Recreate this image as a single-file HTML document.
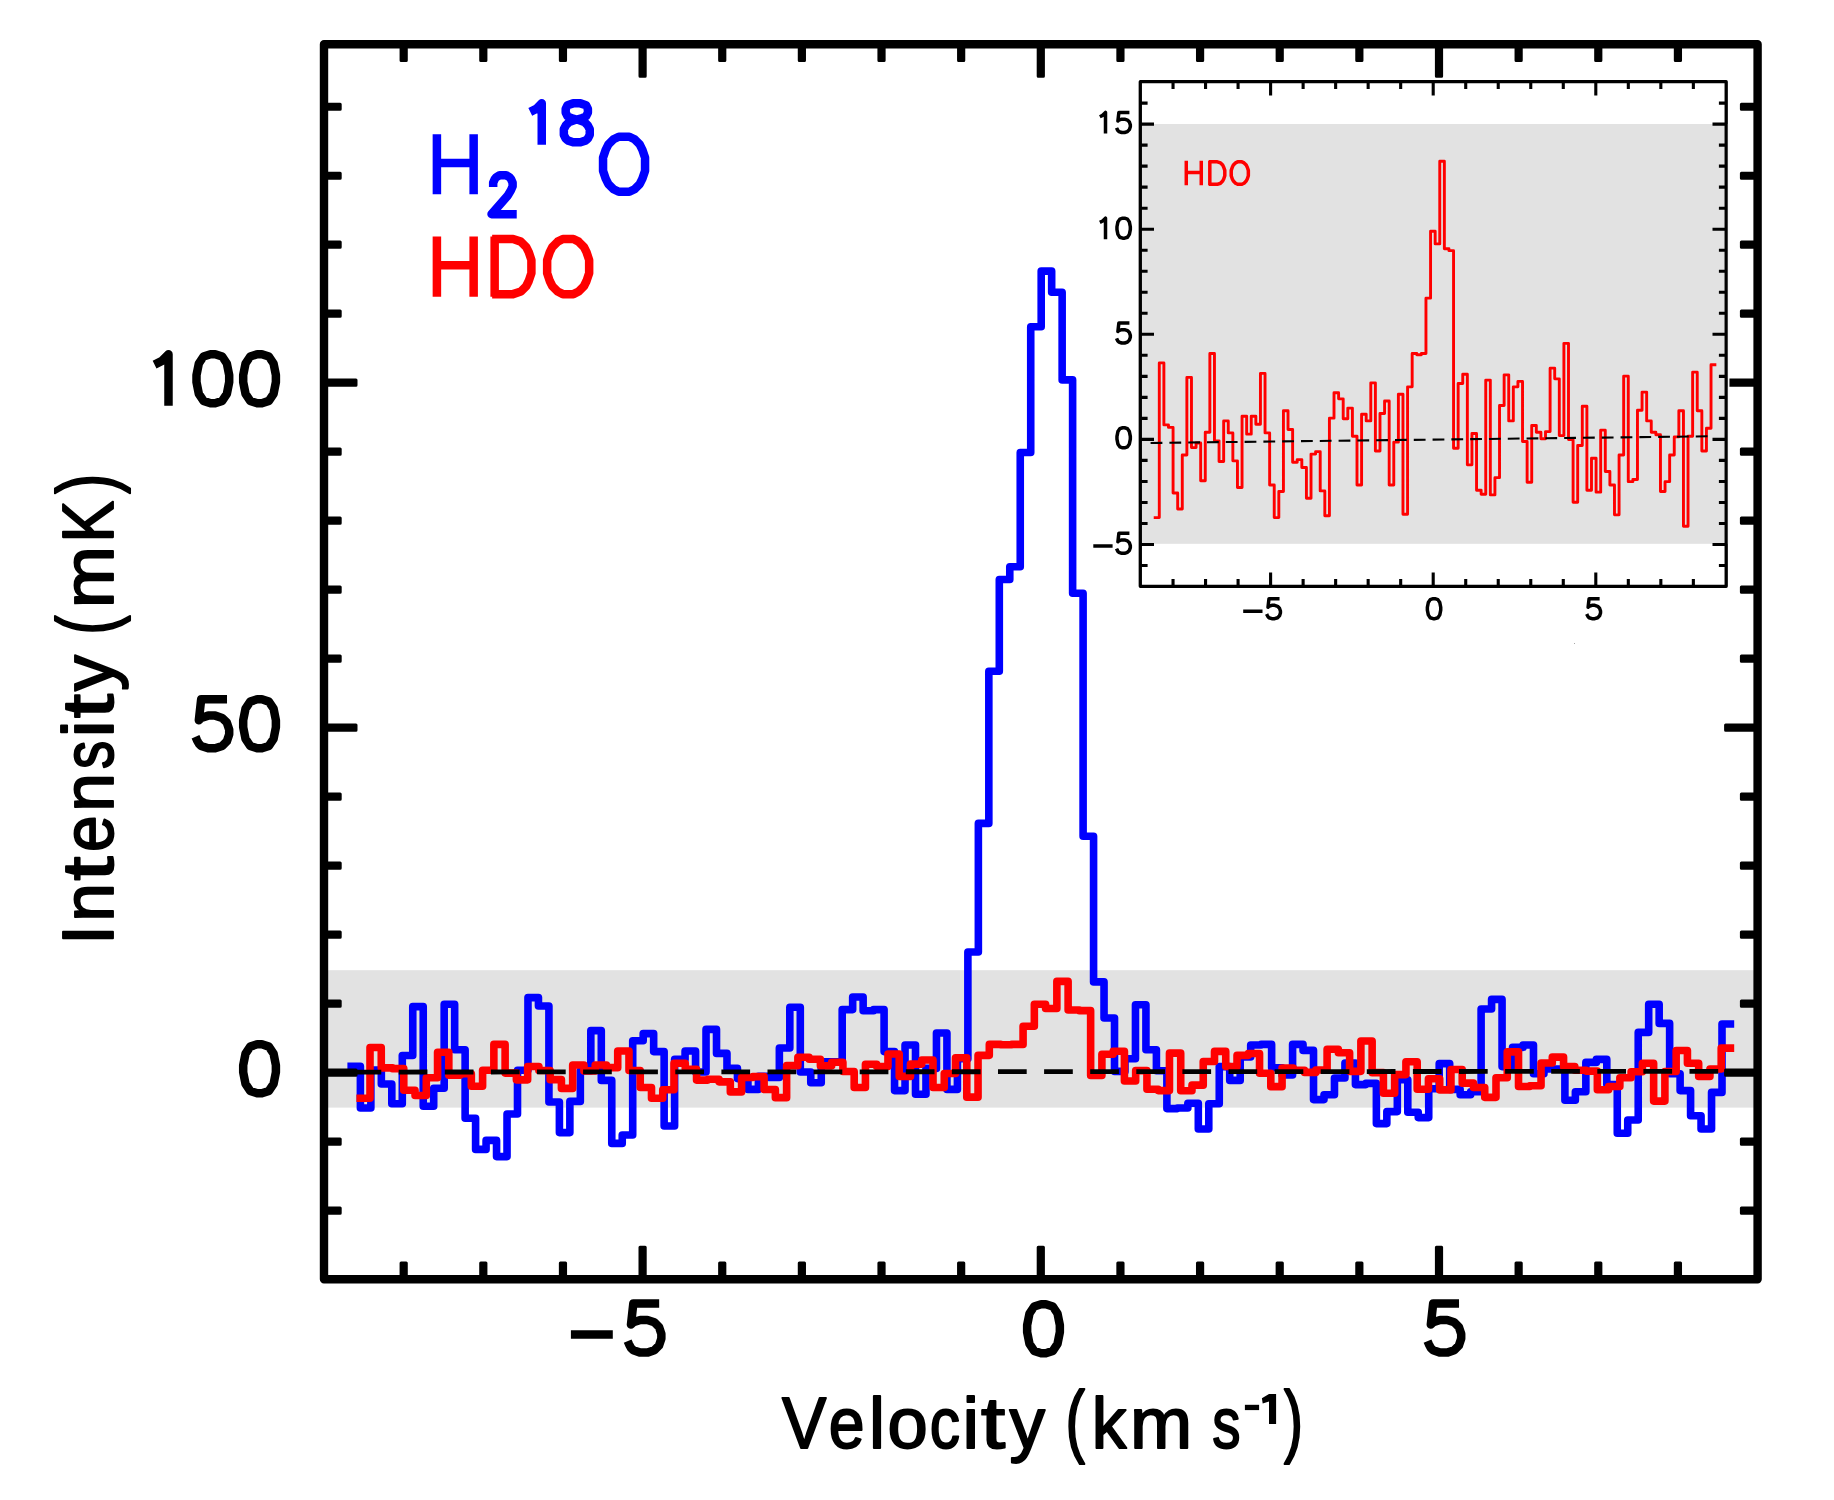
<!DOCTYPE html>
<html><head><meta charset="utf-8"><title>Spectrum</title>
<style>html,body{margin:0;padding:0;background:#fff}svg{display:block}text{font-family:"Liberation Sans",sans-serif}</style></head><body>
<svg width="1834" height="1500" viewBox="0 0 1834 1500">
<rect width="1834" height="1500" fill="#fff"/>
<rect x="324" y="970.2" width="1433.6" height="137.4" fill="#e2e2e2"/>
<path d="M347.4 1066.3H360.39V1108H370.86V1070H381.34V1084H391.81V1103.8H402.29V1055.5H412.76V1006.6H423.23V1106.2H433.71V1088.2H444.18V1004.2H454.66V1049.8H465.13V1118.2H475.6V1149.4H486.08V1140.4H496.55V1156.6H507.03V1114H517.5V1070.2H527.97V997.6H538.45V1006H548.92V1102H559.4V1132.6H569.87V1101.4H580.34V1070.8H590.82V1030.6H601.29V1080.4H611.77V1143.4H622.24V1135H632.71V1040.8H643.19V1033.6H653.66V1051.6H664.14V1126H674.61V1059.4H685.08V1051H695.56V1072H706.03V1029.4H716.51V1053.4H726.98V1068.4H737.45V1078.6H747.93V1089.4H758.4V1076.2H768.88V1077.4H779.35V1048H789.82V1007.2H800.3V1072H810.77V1082.8H821.25V1061.8H831.72V1061.8H842.19V1009.6H852.67V997H863.14V1010.8H873.62V1009.6H884.09V1051.6H894.56V1090.6H905.04V1045H915.51V1094.2H925.99V1068.4H936.46V1033H946.93V1089.4H957.41V1058.7H967.88V952H978.36V823.4H988.83V671.2H999.3V579.5H1009.78V566.7H1020.25V452.5H1030.73V326.7H1041.2V271.1H1051.67V292.3H1062.15V379.9H1072.62V593.3H1083.1V836.2H1093.57V981.9H1104.04V1018H1114.52V1071.4H1124.99V1058.8H1135.47V1004.8H1145.94V1049.8H1156.41V1070.8H1166.89V1108.6H1177.36V1108H1187.84V1103.2H1198.31V1129H1208.78V1103.8H1219.26V1066.6H1229.73V1080.4H1240.21V1057H1250.68V1045H1261.15V1044.4H1271.63V1067.8H1282.1V1075H1292.58V1044.4H1303.05V1050.4H1313.52V1099.6H1324V1094.8H1334.47V1078H1344.95V1063H1355.42V1084.6H1365.89V1083.4H1376.37V1123.6H1386.84V1111.6H1397.32V1079.8H1407.79V1112.2H1418.26V1117.6H1428.74V1088.8H1439.21V1063.6H1449.69V1089.4H1460.16V1094.8H1470.63V1091.8H1481.11V1009H1491.58V999.4H1502.06V1066.6H1512.53V1047.4H1523V1045H1533.48V1073.8H1543.95V1069H1554.43V1069H1564.9V1100.2H1575.37V1091.8H1585.85V1062.4H1596.32V1059.4H1606.8V1084.6H1617.27V1133.2H1627.74V1120H1638.22V1032.4H1648.69V1004.2H1659.17V1023.4H1669.64V1073.8H1680.11V1090.6H1690.59V1115.8H1701.06V1129H1711.54V1092.4H1722.01V1024H1734.2" fill="none" stroke="#0000ff" stroke-width="7.6" stroke-linejoin="round"/>
<path d="M356.4 1098.26H370V1047.49H381.26V1067.84H392.52V1068.67H403.78V1090.19H415.04V1095.44H426.3V1077.71H437.56V1052.25H448.82V1075.29H460.08V1073.77H471.34V1086.19H482.6V1070.25H493.86V1044.38H505.12V1073.08H516.38V1079.84H527.64V1066.53H538.9V1070.46H550.16V1079.64H561.42V1088.4H572.68V1065.01H583.94V1070.88H595.2V1065.01H606.46V1067.63H617.72V1050.94H628.98V1070.46H640.24V1087.57H651.5V1098.26H662.76V1089.71H674.02V1063.22H685.28V1069.36H696.54V1080.12H707.8V1079.22H719.06V1081.84H730.32V1091.92H741.58V1077.43H752.84V1076.6H764.1V1089.5H775.36V1097.64H786.62V1065.63H797.88V1057.28H809.14V1059.28H820.4V1065.84H831.66V1062.32H842.92V1071.57H854.18V1087.57H865.44V1064.32H876.7V1066.53H887.96V1054.04H899.22V1076.39H910.48V1064.11H921.74V1059.97H933V1087.57H944.26V1073.5H955.52V1057.77H966.78V1097.16H978.04V1055.35H989.3V1044.38H1000.56V1044.8H1011.82V1044.38H1023.08V1026.24H1034.34V1004.3H1045.6V1008.44H1056.86V981.33H1068.12V1010.03H1079.38V1010.65H1090.64V1075.5H1101.9V1054.25H1113.16V1051.21H1124.42V1080.95H1135.68V1070.67H1146.94V1089.3H1158.2V1090.61H1169.46V1053.14H1180.72V1090.81H1191.98V1085.16H1203.24V1061.49H1214.5V1051.42H1225.76V1066.53H1237.02V1055.35H1248.28V1053.56H1259.54V1073.29H1270.8V1086.67H1282.06V1068.05H1293.32V1070.25H1304.58V1072.39H1315.84V1070.05H1327.1V1049.21H1338.36V1052.73H1349.62V1071.36H1360.88V1041.07H1372.14V1072.67H1383.4V1093.23H1394.66V1074.6H1405.92V1061.7H1417.18V1089.3H1428.44V1078.81H1439.7V1089.92H1450.96V1069.56H1462.22V1083.16H1473.48V1087.57H1484.74V1097.37H1496V1077.71H1507.26V1051.83H1518.52V1086.47H1529.78V1085.78H1541.04V1063.01H1552.3V1057.08H1563.56V1066.53H1574.82V1070.25H1586.08V1071.08H1597.34V1089.71H1608.6V1086.47H1619.86V1077.71H1631.12V1071.77H1642.38V1063.22H1653.64V1101.09H1664.9V1071.57H1676.16V1050.52H1687.42V1063.22H1698.68V1076.39H1709.94V1068.94H1721.2V1048.11H1734.2" fill="none" stroke="#ff0000" stroke-width="7.6" stroke-linejoin="round"/>
<line x1="352.6" y1="1072.05" x2="1724" y2="1071.35" stroke="#000" stroke-width="4.8" stroke-dasharray="28.7 17.4"/>
<path d="M401.08 44.3h5.2v16.2h-5.2zM401.08 1279.3h5.2v-16.2h-5.2zM480.72 44.3h5.2v16.2h-5.2zM480.72 1279.3h5.2v-16.2h-5.2zM560.36 44.3h5.2v16.2h-5.2zM560.36 1279.3h5.2v-16.2h-5.2zM640 44.3h5.2v32h-5.2zM640 1279.3h5.2v-32h-5.2zM719.64 44.3h5.2v16.2h-5.2zM719.64 1279.3h5.2v-16.2h-5.2zM799.28 44.3h5.2v16.2h-5.2zM799.28 1279.3h5.2v-16.2h-5.2zM878.92 44.3h5.2v16.2h-5.2zM878.92 1279.3h5.2v-16.2h-5.2zM958.56 44.3h5.2v16.2h-5.2zM958.56 1279.3h5.2v-16.2h-5.2zM1038.2 44.3h5.2v32h-5.2zM1038.2 1279.3h5.2v-32h-5.2zM1117.84 44.3h5.2v16.2h-5.2zM1117.84 1279.3h5.2v-16.2h-5.2zM1197.48 44.3h5.2v16.2h-5.2zM1197.48 1279.3h5.2v-16.2h-5.2zM1277.12 44.3h5.2v16.2h-5.2zM1277.12 1279.3h5.2v-16.2h-5.2zM1356.76 44.3h5.2v16.2h-5.2zM1356.76 1279.3h5.2v-16.2h-5.2zM1436.4 44.3h5.2v32h-5.2zM1436.4 1279.3h5.2v-32h-5.2zM1516.04 44.3h5.2v16.2h-5.2zM1516.04 1279.3h5.2v-16.2h-5.2zM1595.68 44.3h5.2v16.2h-5.2zM1595.68 1279.3h5.2v-16.2h-5.2zM1675.32 44.3h5.2v16.2h-5.2zM1675.32 1279.3h5.2v-16.2h-5.2zM324 1207.98v5.2h16.2v-5.2zM1757.6 1207.98v5.2h-16.2v-5.2zM324 1138.99v5.2h16.2v-5.2zM1757.6 1138.99v5.2h-16.2v-5.2zM324 1070v5.2h32v-5.2zM1757.6 1070v5.2h-32v-5.2zM324 1001.01v5.2h16.2v-5.2zM1757.6 1001.01v5.2h-16.2v-5.2zM324 932.02v5.2h16.2v-5.2zM1757.6 932.02v5.2h-16.2v-5.2zM324 863.03v5.2h16.2v-5.2zM1757.6 863.03v5.2h-16.2v-5.2zM324 794.04v5.2h16.2v-5.2zM1757.6 794.04v5.2h-16.2v-5.2zM324 725.05v5.2h32v-5.2zM1757.6 725.05v5.2h-32v-5.2zM324 656.06v5.2h16.2v-5.2zM1757.6 656.06v5.2h-16.2v-5.2zM324 587.07v5.2h16.2v-5.2zM1757.6 587.07v5.2h-16.2v-5.2zM324 518.08v5.2h16.2v-5.2zM1757.6 518.08v5.2h-16.2v-5.2zM324 449.09v5.2h16.2v-5.2zM1757.6 449.09v5.2h-16.2v-5.2zM324 380.1v5.2h32v-5.2zM1757.6 380.1v5.2h-32v-5.2zM324 311.11v5.2h16.2v-5.2zM1757.6 311.11v5.2h-16.2v-5.2zM324 242.12v5.2h16.2v-5.2zM1757.6 242.12v5.2h-16.2v-5.2zM324 173.13v5.2h16.2v-5.2zM1757.6 173.13v5.2h-16.2v-5.2zM324 104.14v5.2h16.2v-5.2zM1757.6 104.14v5.2h-16.2v-5.2z" fill="#000" stroke="#000" stroke-width="3" stroke-linejoin="round"/>
<rect x="324" y="44.3" width="1433.6" height="1235" fill="none" stroke="#000" stroke-width="8.4" stroke-linejoin="round"/>
<path d="M154.57 364.62L161.48 361.17L168.49 354.16L168.49 405.7M210.51 354.16L203.51 356.5L198.84 363.5L196.5 375.18L196.5 382.19L198.84 393.86L203.51 400.87L210.51 403.2L215.19 403.2L222.19 400.87L226.86 393.86L229.19 382.19L229.19 375.18L226.86 363.5L222.19 356.5L215.19 354.16ZM257.21 354.16L250.21 356.5L245.54 363.5L243.2 375.18L243.2 382.19L245.54 393.86L250.21 400.87L257.21 403.2L261.88 403.2L268.89 400.87L273.56 393.86L275.89 382.19L275.89 375.18L273.56 363.5L268.89 356.5L261.88 354.16ZM227.03 699.26L201.18 699.26L198.84 720.28L201.18 717.94L208.18 715.61L215.19 715.61L222.19 717.94L226.86 722.62L229.19 729.62L229.19 734.29L226.86 741.29L222.19 745.96L215.19 748.3L208.18 748.3L201.18 745.96L198.84 743.63L196.86 739.89L195.52 736.78M257.21 699.26L250.21 701.6L245.54 708.6L243.2 720.28L243.2 727.28L245.54 738.96L250.21 745.96L257.21 748.3L261.88 748.3L268.89 745.96L273.56 738.96L275.89 727.28L275.89 720.28L273.56 708.6L268.89 701.6L261.88 699.26ZM257.21 1044.26L250.21 1046.6L245.54 1053.61L243.2 1065.28L243.2 1072.28L245.54 1083.96L250.21 1090.96L257.21 1093.3L261.88 1093.3L268.89 1090.96L273.56 1083.96L275.89 1072.28L275.89 1065.28L273.56 1053.61L268.89 1046.6L261.88 1044.26ZM659.17 1303.56L633.32 1303.56L630.99 1324.58L633.32 1322.24L640.33 1319.91L647.33 1319.91L654.34 1322.24L659.01 1326.91L661.35 1333.92L661.35 1338.59L659.01 1345.59L654.34 1350.26L647.33 1352.6L640.33 1352.6L633.32 1350.26L630.99 1347.93L629.01 1344.19L627.67 1341.08M570.9 1334.5H612.8M1041.16 1304.16L1034.16 1306.5L1029.49 1313.51L1027.15 1325.18L1027.15 1332.18L1029.49 1343.86L1034.16 1350.87L1041.16 1353.2L1045.84 1353.2L1052.84 1350.87L1057.51 1343.86L1059.85 1332.18L1059.85 1325.18L1057.51 1313.51L1052.84 1306.5L1045.84 1304.16ZM1459.03 1303.56L1433.17 1303.56L1430.84 1324.58L1433.17 1322.24L1440.18 1319.91L1447.18 1319.91L1454.19 1322.24L1458.86 1326.91L1461.19 1333.92L1461.19 1338.59L1458.86 1345.59L1454.19 1350.26L1447.18 1352.6L1440.18 1352.6L1433.17 1350.26L1430.84 1347.93L1428.86 1344.19L1427.52 1341.08" fill="none" stroke="#000" stroke-width="8.5" stroke-linejoin="round"/>
<path d="M436.9 134.18L436.9 194.3M473.65 134.18L473.65 194.3M434.4 162.93L476.15 162.93M493.17 187.05L493.17 182.7L494.79 179L496.41 177.15L499.65 175.3L506.13 175.3L509.37 177.15L510.99 179L512.61 182.7L512.61 186.4L510.99 190.1L507.75 195.65L491.55 214.15L516.73 214.15M530.26 111.87L536.2 108.9L541.75 103.35L541.75 144.7M573.1 103.35L567.55 105.2L565.7 108.9L565.7 112.6L567.55 116.3L571.25 118.15L578.65 120L584.2 121.85L587.9 125.55L589.75 129.25L589.75 134.8L587.9 138.5L586.05 140.35L580.5 142.2L573.1 142.2L567.55 140.35L565.7 138.5L563.85 134.8L563.85 129.25L565.7 125.55L569.4 121.85L574.95 120L582.35 118.15L586.05 116.3L587.9 112.6L587.9 108.9L586.05 105.2L580.5 103.35ZM618.8 136.68L613.55 139.3L608.3 144.55L605.67 149.8L603.05 157.68L603.05 170.8L605.67 178.68L608.3 183.93L613.55 189.18L618.8 191.8L629.3 191.8L634.55 189.18L639.8 183.93L642.42 178.68L645.05 170.8L645.05 157.68L642.42 149.8L639.8 144.55L634.55 139.3L629.3 136.68Z" fill="none" stroke="#0000ff" stroke-width="8.5" stroke-linejoin="round"/>
<path d="M436.9 236.52L436.9 296.65M473.65 236.52L473.65 296.65M434.4 265.27L476.15 265.27M494.65 236.52L494.65 296.65M492.15 239.02L513.02 239.02L520.9 241.65L526.15 246.9L528.77 252.15L531.4 260.02L531.4 273.15L528.77 281.02L526.15 286.27L520.9 291.52L513.02 294.15L492.15 294.15M562.9 239.02L557.65 241.65L552.4 246.9L549.77 252.15L547.15 260.02L547.15 273.15L549.77 281.02L552.4 286.27L557.65 291.52L562.9 294.15L573.4 294.15L578.65 291.52L583.9 286.27L586.52 281.02L589.15 273.15L589.15 260.02L586.52 252.15L583.9 246.9L578.65 241.65L573.4 239.02Z" fill="none" stroke="#ff0000" stroke-width="8.5" stroke-linejoin="round"/>
<rect x="1140.3" y="81.7" width="585.9" height="504.6" fill="#fff"/>
<rect x="1140.3" y="124" width="587.4" height="419.8" fill="#e2e2e2"/>
<path d="M1153.73 517.59H1159.29V362.89H1163.89V424.9H1168.48V427.42H1173.08V493H1177.68V508.98H1182.28V454.95H1186.87V377.39H1191.47V447.6H1196.07V442.97H1200.67V480.81H1205.27V432.25H1209.86V353.43H1214.46V440.87H1219.06V461.47H1223.66V420.9H1228.26V432.88H1232.85V460.84H1237.45V487.54H1242.05V416.28H1246.65V434.14H1251.24V416.28H1255.84V424.27H1260.44V373.4H1265.04V432.88H1269.64V485.01H1274.23V517.59H1278.83V491.53H1283.43V410.81H1288.03V429.52H1292.63V462.31H1297.22V459.58H1301.82V467.57H1306.42V498.26H1311.02V454.11H1315.62V451.59H1320.21V490.9H1324.81V515.7H1329.41V418.17H1334.01V392.74H1338.6V398.83H1343.2V418.8H1347.8V408.08H1352.4V436.25H1357V485.01H1361.59V414.18H1366.19V420.9H1370.79V382.86H1375.39V450.96H1379.99V413.55H1384.58V400.93H1389.18V485.01H1393.78V442.13H1398.38V394.21H1402.97V514.23H1407.57V386.85H1412.17V353.43H1416.77V354.69H1421.37V353.43H1425.96V298.15H1430.56V231.3H1435.16V243.91H1439.76V161.31H1444.36V248.75H1448.95V250.64H1453.55V448.23H1458.15V383.49H1462.75V374.24H1467.35V464.83H1471.94V433.51H1476.54V490.27H1481.14V494.26H1485.74V380.12H1490.33V494.89H1494.93V477.66H1499.53V405.56H1504.13V374.87H1508.73V420.9H1513.32V386.85H1517.92V381.38H1522.52V441.5H1527.12V482.28H1531.72V425.53H1536.31V432.25H1540.91V438.77H1545.51V431.62H1550.11V368.14H1554.7V378.86H1559.3V435.62H1563.9V343.34H1568.5V439.61H1573.1V502.25H1577.69V445.5H1582.29V406.19H1586.89V490.27H1591.49V458.32H1596.09V492.16H1600.68V430.15H1605.28V471.56H1609.88V485.01H1614.48V514.86H1619.08V454.95H1623.67V376.13H1628.27V481.65H1632.87V479.55H1637.47V410.18H1642.06V392.1H1646.66V420.9H1651.26V432.25H1655.86V434.78H1660.46V491.53H1665.05V481.65H1669.65V454.95H1674.25V436.88H1678.85V410.81H1683.45V526.21H1688.04V436.25H1692.64V372.14H1697.24V410.81H1701.84V450.96H1706.43V428.26H1711.03V364.78H1716.34" fill="none" stroke="#ff0000" stroke-width="2.9" stroke-linejoin="round"/>
<line x1="1150.6" y1="442.97" x2="1713.4" y2="436.25" stroke="#000" stroke-width="2.1" stroke-dasharray="11.8 7.0"/>
<path d="M1173.04 81.7v7.3M1173.04 586.3v-7.3M1205.56 81.7v7.3M1205.56 586.3v-7.3M1238.08 81.7v7.3M1238.08 586.3v-7.3M1270.6 81.7v13.7M1270.6 586.3v-13.7M1303.12 81.7v7.3M1303.12 586.3v-7.3M1335.64 81.7v7.3M1335.64 586.3v-7.3M1368.16 81.7v7.3M1368.16 586.3v-7.3M1400.68 81.7v7.3M1400.68 586.3v-7.3M1433.2 81.7v13.7M1433.2 586.3v-13.7M1465.72 81.7v7.3M1465.72 586.3v-7.3M1498.24 81.7v7.3M1498.24 586.3v-7.3M1530.76 81.7v7.3M1530.76 586.3v-7.3M1563.28 81.7v7.3M1563.28 586.3v-7.3M1595.8 81.7v13.7M1595.8 586.3v-13.7M1628.32 81.7v7.3M1628.32 586.3v-7.3M1660.84 81.7v7.3M1660.84 586.3v-7.3M1693.36 81.7v7.3M1693.36 586.3v-7.3M1140.3 565.52h7.3M1726.2 565.52h-7.3M1140.3 544.5h13.7M1726.2 544.5h-13.7M1140.3 523.48h7.3M1726.2 523.48h-7.3M1140.3 502.46h7.3M1726.2 502.46h-7.3M1140.3 481.44h7.3M1726.2 481.44h-7.3M1140.3 460.42h7.3M1726.2 460.42h-7.3M1140.3 439.4h13.7M1726.2 439.4h-13.7M1140.3 418.38h7.3M1726.2 418.38h-7.3M1140.3 397.36h7.3M1726.2 397.36h-7.3M1140.3 376.34h7.3M1726.2 376.34h-7.3M1140.3 355.32h7.3M1726.2 355.32h-7.3M1140.3 334.3h13.7M1726.2 334.3h-13.7M1140.3 313.28h7.3M1726.2 313.28h-7.3M1140.3 292.26h7.3M1726.2 292.26h-7.3M1140.3 271.24h7.3M1726.2 271.24h-7.3M1140.3 250.22h7.3M1726.2 250.22h-7.3M1140.3 229.2h13.7M1726.2 229.2h-13.7M1140.3 208.18h7.3M1726.2 208.18h-7.3M1140.3 187.16h7.3M1726.2 187.16h-7.3M1140.3 166.14h7.3M1726.2 166.14h-7.3M1140.3 145.12h7.3M1726.2 145.12h-7.3M1140.3 124.1h13.7M1726.2 124.1h-13.7M1140.3 103.08h7.3M1726.2 103.08h-7.3" fill="none" stroke="#000" stroke-width="3.1"/>
<rect x="1140.3" y="81.7" width="585.9" height="504.6" fill="none" stroke="#000" stroke-width="3.3" stroke-linejoin="round"/>
<path d="M1099.83 116.71L1102.63 115.31L1105.5 112.44L1105.5 133.5M1129.42 112.44L1118.87 112.44L1117.91 121.04L1118.87 120.09L1121.73 119.13L1124.6 119.13L1127.46 120.09L1129.37 122L1130.33 124.86L1130.33 126.77L1129.37 129.63L1127.46 131.54L1124.6 132.5L1121.73 132.5L1118.87 131.54L1117.91 130.59L1117.1 129.06L1116.57 127.81M1099.83 222.41L1102.63 221.01L1105.5 218.14L1105.5 239.2M1122.69 218.14L1119.82 219.1L1117.91 221.96L1116.96 226.74L1116.96 229.6L1117.91 234.38L1119.82 237.24L1122.69 238.2L1124.6 238.2L1127.46 237.24L1129.37 234.38L1130.33 229.6L1130.33 226.74L1129.37 221.96L1127.46 219.1L1124.6 218.14ZM1129.42 322.94L1118.87 322.94L1117.91 331.54L1118.87 330.58L1121.73 329.63L1124.6 329.63L1127.46 330.58L1129.37 332.5L1130.33 335.36L1130.33 337.27L1129.37 340.13L1127.46 342.05L1124.6 343L1121.73 343L1118.87 342.05L1117.91 341.09L1117.1 339.56L1116.57 338.31M1122.69 427.75L1119.82 428.7L1117.91 431.56L1116.96 436.34L1116.96 439.21L1117.91 443.98L1119.82 446.85L1122.69 447.8L1124.6 447.8L1127.46 446.85L1129.37 443.98L1130.33 439.21L1130.33 436.34L1129.37 431.56L1127.46 428.7L1124.6 427.75ZM1129.42 533.25L1118.87 533.25L1117.91 541.84L1118.87 540.88L1121.73 539.93L1124.6 539.93L1127.46 540.88L1129.37 542.79L1130.33 545.66L1130.33 547.57L1129.37 550.43L1127.46 552.34L1124.6 553.3L1121.73 553.3L1118.87 552.34L1117.91 551.39L1117.1 549.86L1116.57 548.61M1093.3 546.0H1112.6M1279.53 598.65L1268.98 598.65L1268.02 607.24L1268.98 606.29L1271.84 605.33L1274.71 605.33L1277.57 606.29L1279.48 608.2L1280.43 611.06L1280.43 612.97L1279.48 615.84L1277.57 617.75L1274.71 618.7L1271.84 618.7L1268.98 617.75L1268.02 616.79L1267.21 615.26L1266.67 614.01M1243.2 611.3H1262.5M1433.1 598.65L1430.23 599.6L1428.32 602.47L1427.37 607.24L1427.37 610.11L1428.32 614.88L1430.23 617.75L1433.1 618.7L1435.01 618.7L1437.87 617.75L1439.78 614.88L1440.73 610.11L1440.73 607.24L1439.78 602.47L1437.87 599.6L1435.01 598.65ZM1599.62 598.65L1589.08 598.65L1588.12 607.24L1589.08 606.29L1591.94 605.33L1594.81 605.33L1597.67 606.29L1599.58 608.2L1600.53 611.06L1600.53 612.97L1599.58 615.84L1597.67 617.75L1594.81 618.7L1591.94 618.7L1589.08 617.75L1588.12 616.79L1587.31 615.26L1586.77 614.01" fill="none" stroke="#000" stroke-width="3.5" stroke-linejoin="round"/>
<path d="M1186.28 160.83L1186.28 185.3M1201.26 160.83L1201.26 185.3M1185.28 172.53L1202.26 172.53M1209.82 160.83L1209.82 185.3M1208.82 161.83L1217.31 161.83L1220.52 162.9L1222.66 165.04L1223.73 167.18L1224.8 170.39L1224.8 175.74L1223.73 178.95L1222.66 181.09L1220.52 183.23L1217.31 184.3L1208.82 184.3M1237.64 161.83L1235.5 162.9L1233.36 165.04L1232.29 167.18L1231.22 170.39L1231.22 175.74L1232.29 178.95L1233.36 181.09L1235.5 183.23L1237.64 184.3L1241.92 184.3L1244.06 183.23L1246.2 181.09L1247.27 178.95L1248.34 175.74L1248.34 170.39L1247.27 167.18L1246.2 165.04L1244.06 162.9L1241.92 161.83Z" fill="none" stroke="#ff0000" stroke-width="3.5" stroke-linejoin="round"/>
<g fill="#000" stroke="#000" stroke-width="1.9" stroke-linejoin="round" font-size="72.5">
<text transform="translate(781.98 1447.9) scale(0.917 1.000)">V</text>
<text transform="translate(828.71 1447.9) scale(0.888 1.000)">e</text>
<text transform="translate(868.89 1447.9) scale(0.992 1.000)">l</text>
<text transform="translate(887.61 1447.9) scale(0.999 1.000)">o</text>
<text transform="translate(929.82 1447.9) scale(0.835 1.000)">c</text>
<text transform="translate(962.59 1447.9) scale(1.028 1.000)">i</text>
<text transform="translate(981.07 1447.9) scale(1.200 1.000)">t</text>
<text transform="translate(1009.56 1447.9) scale(0.981 1.000)">y</text>
<text transform="translate(1091.63 1447.9) scale(0.956 1.000)">k</text>
<text transform="translate(1129.92 1447.9) scale(1.030 1.000)">m</text>
<text transform="translate(1212.2 1447.9) scale(0.780 1.000)">s</text>
<text transform="translate(1065.54 1446.9) scale(0.805 1.087)">(</text>
<text transform="translate(1284.02 1446.9) scale(0.786 1.087)">)</text>
</g>
<rect x="1244.9" y="1404.8" width="14.2" height="5.3" fill="#000"/>
<path d="M1269 1393.9H1276.1V1423.9H1269V1401.4L1262.7 1403.5L1261.9 1398.2Z" fill="#000"/>
<g fill="#000" stroke="#000" stroke-width="1.9" stroke-linejoin="round" font-size="72.5" transform="translate(113.3 940) rotate(-90)">
<text transform="translate(-4.77 0) scale(0.970 1.000)">I</text>
<text transform="translate(18.31 0) scale(0.957 1.000)">n</text>
<text transform="translate(59.27 0) scale(1.200 1.000)">t</text>
<text transform="translate(88.07 0) scale(0.905 1.000)">e</text>
<text transform="translate(128.31 0) scale(0.957 1.000)">n</text>
<text transform="translate(171.1 0) scale(0.780 1.000)">s</text>
<text transform="translate(202.64 0) scale(1.040 1.000)">i</text>
<text transform="translate(221.77 0) scale(1.200 1.000)">t</text>
<text transform="translate(249.06 0) scale(0.991 1.000)">y</text>
<text transform="translate(331.83 0) scale(1.028 1.000)">m</text>
<text transform="translate(397.39 0) scale(0.862 1.000)">K</text>
<text transform="translate(305.49 -0.61) scale(0.791 1.089)">(</text>
<text transform="translate(446.24 -0.61) scale(0.828 1.089)">)</text>
</g>
<rect x="1727.85" y="124" width="1.6" height="419.8" fill="#f7f7f7"/>
<rect x="1574" y="643" width="1" height="1" fill="#a8a8a8"/>
</svg></body></html>
